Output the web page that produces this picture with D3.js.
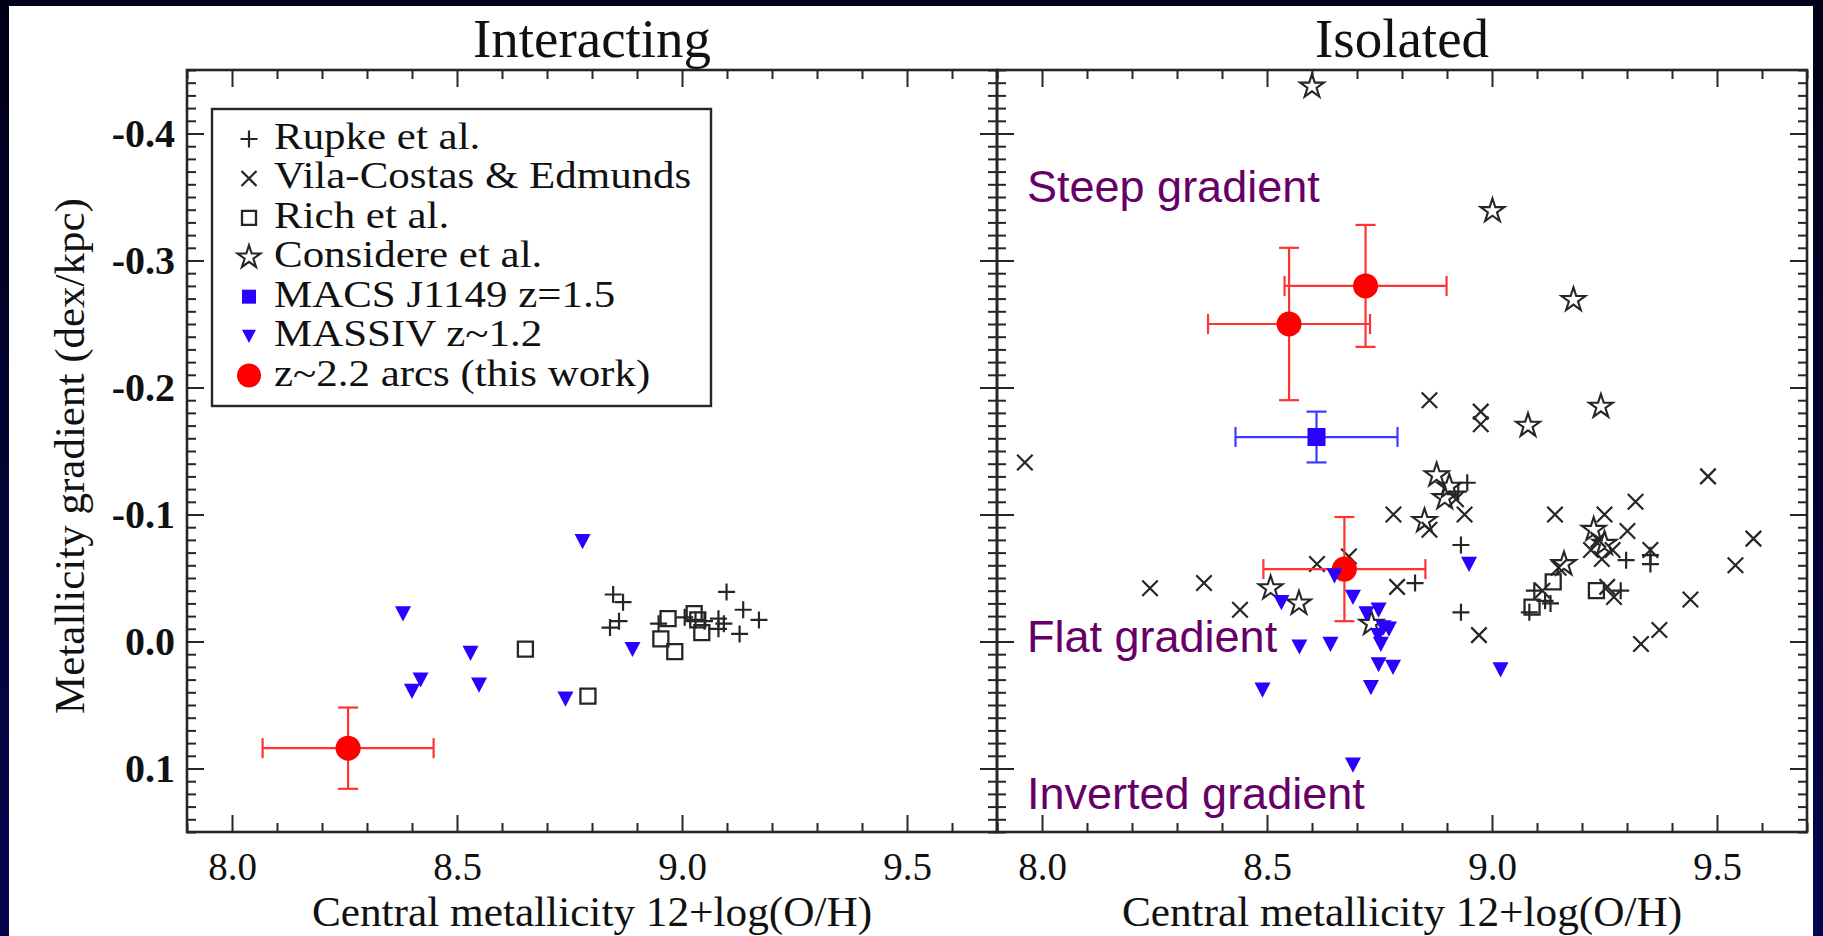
<!DOCTYPE html>
<html>
<head>
<meta charset="utf-8">
<script src="https://cdn.jsdelivr.net/npm/d3@7"></script>
<style>
  html, body { margin: 0; padding: 0; background: #000020; overflow: hidden; }
  svg { display: block; }
</style>
</head>
<body>
<svg id="chart" width="1823" height="936"></svg>
<script>
// ---------------- data ----------------
const xTickValues = [8.0, 8.5, 9.0, 9.5];
const xTickLabels = ["8.0", "8.5", "9.0", "9.5"];
const yTickValues = [-0.4, -0.3, -0.2, -0.1, 0.0, 0.1];
const yTickLabels = ["-0.4", "-0.3", "-0.2", "-0.1", "0.0", "0.1"];
const panelTitles = ["Interacting", "Isolated"];
const xAxisTitle = "Central metallicity 12+log(O/H)";
const yAxisTitle = "Metallicity gradient (dex/kpc)";
const legendLabels = ["Rupke et al.", "Vila-Costas & Edmunds", "Rich et al.", "Considere et al.",
                      "MACS J1149 z=1.5", "MASSIV z~1.2", "z~2.2 arcs (this work)"];
const regimeLabels = ["Steep gradient", "Flat gradient", "Inverted gradient"];
const regimeValues = [-0.346, 0.008, 0.132];

// Interacting systems: [12+log(O/H), gradient]
const intRupke = [[8.847, -0.037], [8.869, -0.031], [8.860, -0.016], [8.840, -0.011], [8.948, -0.014],
                  [9.006, -0.019], [9.030, -0.017], [9.081, -0.018], [9.099, -0.039], [9.136, -0.025],
                  [9.171, -0.017], [9.128, -0.006], [9.081, -0.010], [9.093, -0.014], [9.050, -0.016]];
const intRich = [[8.652, 0.006], [8.791, 0.043], [8.969, -0.018], [8.953, -0.002], [8.984, 0.008],
                 [9.027, -0.022], [9.035, -0.017], [9.044, -0.007]];
const intMassiv = [[8.779, -0.079], [8.380, -0.022], [8.530, 0.009], [8.419, 0.030], [8.400, 0.039],
                   [8.549, 0.034], [8.741, 0.045], [8.890, 0.006]];
// [x, y, x error, y error]
const intArcs = [[8.258, 0.084, 0.19, 0.032]];

// Isolated systems
const isoRupke = [[8.945, -0.125], [8.925, -0.118], [8.931, -0.076], [8.829, -0.046], [8.931, -0.023],
                  [9.352, -0.061], [9.298, -0.064], [9.094, -0.040], [9.118, -0.032], [9.130, -0.030],
                  [9.083, -0.023], [9.286, -0.040], [9.352, -0.068]];
const isoVila = [[7.962, -0.141], [8.861, -0.190], [8.975, -0.181], [8.975, -0.171], [8.781, -0.100],
                 [8.939, -0.100], [8.861, -0.088], [8.611, -0.061], [8.682, -0.067], [8.440, -0.025],
                 [8.240, -0.042], [8.360, -0.046], [8.789, -0.043], [8.971, -0.005], [8.920, -0.112],
                 [9.140, -0.100], [9.250, -0.100], [9.319, -0.110], [9.480, -0.130], [9.581, -0.081],
                 [9.541, -0.060], [9.441, -0.033], [9.372, -0.009], [9.331, 0.002], [9.301, -0.087],
                 [9.236, -0.080], [9.220, -0.072], [9.268, -0.072], [9.244, -0.065], [9.352, -0.072],
                 [9.148, -0.058], [9.112, -0.040], [9.256, -0.043], [9.271, -0.035]];
const isoRich = [[9.136, -0.047], [9.089, -0.027], [9.232, -0.040]];
const isoConsidere = [[8.600, -0.437], [9.001, -0.339], [9.181, -0.269], [9.242, -0.185], [9.080, -0.170],
                      [8.877, -0.131], [8.905, -0.122], [8.895, -0.113], [8.850, -0.095], [8.508, -0.042],
                      [8.571, -0.030], [8.732, -0.014], [9.226, -0.088], [9.160, -0.061], [9.250, -0.077]];
const isoMassiv = [[8.949, -0.061], [8.650, -0.052], [8.532, -0.031], [8.691, -0.035], [8.721, -0.022],
                   [8.748, -0.025], [8.759, -0.011], [8.771, -0.010], [8.747, -0.005], [8.753, 0.002],
                   [8.572, 0.004], [8.641, 0.002], [8.748, 0.018], [8.780, 0.020], [9.019, 0.022],
                   [8.490, 0.038], [8.731, 0.036], [8.691, 0.097]];
const isoMacs = [[8.610, -0.161, 0.18, 0.020]];
const isoArcs = [[8.719, -0.280, 0.18, 0.048], [8.549, -0.250, 0.18, 0.060], [8.672, -0.057, 0.18, 0.041]];

// ---------------- layout ----------------
const W = 1823, H = 936;
const plotTop = 70, plotBottom = 832;
const panels = [
  { left: 187, right: 997 },
  { left: 997, right: 1807 }
];
const xDomain = [7.9, 9.7];
const yDomain = [-0.45, 0.15];
const INK = "#262626";
const BLUE = "#2a00ff";
const RED = "#ff0000";
const PURPLE = "#660066";
const SERIF = "'Liberation Serif', 'Times New Roman', serif";
const SANS = "'Liberation Sans', Arial, sans-serif";

const y = d3.scaleLinear().domain(yDomain).range([plotTop, plotBottom]);
const xScales = panels.map(p => d3.scaleLinear().domain(xDomain).range([p.left, p.right]));

const svg = d3.select("#chart");

// slide background and white page
const defs = svg.append("defs");
const grad = defs.append("linearGradient").attr("id", "slideBg")
  .attr("x1", 0).attr("y1", 0).attr("x2", 0).attr("y2", 1);
grad.append("stop").attr("offset", "0%").attr("stop-color", "#000018");
grad.append("stop").attr("offset", "100%").attr("stop-color", "#05054f");
svg.append("rect").attr("width", W).attr("height", H).attr("fill", "url(#slideBg)");
svg.append("rect").attr("x", 9).attr("y", 6).attr("width", 1804).attr("height", H - 6).attr("fill", "#ffffff");

// ---------------- custom marker shapes (size = side length squared) ----------------
const symPlus = { draw(ctx, size) { const r = Math.sqrt(size) / 2;
  ctx.moveTo(-r, 0); ctx.lineTo(r, 0); ctx.moveTo(0, -r); ctx.lineTo(0, r); } };
const symTimes = { draw(ctx, size) { const r = Math.sqrt(size) / 2;
  ctx.moveTo(-r, -r); ctx.lineTo(r, r); ctx.moveTo(r, -r); ctx.lineTo(-r, r); } };
const symTriDown = { draw(ctx, size) { const r = Math.sqrt(size) / 2;
  ctx.moveTo(-r, -r * 0.9); ctx.lineTo(r, -r * 0.9); ctx.lineTo(0, r * 1.0); ctx.closePath(); } };
const starSize = rad => rad * rad / 0.8908130915292852;

const markers = {
  rupke:     { type: symPlus,        size: 17 * 17, fill: "none",  stroke: INK,  sw: 2.2 },
  vila:      { type: symTimes,       size: 15.5 * 15.5, fill: "none", stroke: INK, sw: 2.2 },
  rich:      { type: d3.symbolSquare, size: 15 * 15, fill: "none", stroke: INK,  sw: 2.3 },
  considere: { type: d3.symbolStar,  size: starSize(12.5), fill: "none", stroke: INK, sw: 2.1 },
  macs:      { type: d3.symbolSquare, size: 18 * 18, fill: BLUE,  stroke: "none", sw: 0 },
  massiv:    { type: symTriDown,     size: 16 * 16, fill: BLUE,   stroke: "none", sw: 0 },
  arcs:      { type: d3.symbolCircle, size: Math.PI * 12.5 * 12.5, fill: RED, stroke: "none", sw: 0 }
};

function drawMarkers(g, data, key, x) {
  const m = markers[key];
  const sym = d3.symbol().type(m.type).size(m.size);
  g.append("g").selectAll("path").data(data).join("path")
    .attr("transform", d => `translate(${x(d[0])},${y(d[1])})`)
    .attr("d", sym)
    .attr("fill", m.fill)
    .attr("stroke", m.stroke)
    .attr("stroke-width", m.sw)
    .attr("stroke-linejoin", "miter");
}

function drawErrorBars(g, data, color, x) {
  const cap = 10;
  const eg = g.append("g").attr("stroke", color).attr("stroke-width", 2.2).attr("fill", "none");
  data.forEach(d => {
    const cx = x(d[0]), cy = y(d[1]);
    const x0 = x(d[0] - d[2]), x1 = x(d[0] + d[2]);
    const y0 = y(d[1] - d[3]), y1 = y(d[1] + d[3]);
    eg.append("line").attr("x1", x0).attr("x2", x1).attr("y1", cy).attr("y2", cy);
    eg.append("line").attr("x1", x0).attr("x2", x0).attr("y1", cy - cap).attr("y2", cy + cap);
    eg.append("line").attr("x1", x1).attr("x2", x1).attr("y1", cy - cap).attr("y2", cy + cap);
    eg.append("line").attr("x1", cx).attr("x2", cx).attr("y1", y0).attr("y2", y1);
    eg.append("line").attr("x1", cx - cap).attr("x2", cx + cap).attr("y1", y0).attr("y2", y0);
    eg.append("line").attr("x1", cx - cap).attr("x2", cx + cap).attr("y1", y1).attr("y2", y1);
  });
}

// ---------------- axes ----------------
const xMinor = d3.range(79, 98).map(v => v / 10).filter(v => !xTickValues.some(t => Math.abs(t - v) < 1e-6));
const yMinor = d3.range(-45, 16).map(v => v / 100).filter(v => !yTickValues.some(t => Math.abs(t - v) < 1e-6));
const MAJOR = 17, MINOR = 9;

function styleAxis(g) {
  g.select(".domain").remove();
  g.selectAll(".tick line").attr("stroke", INK).attr("stroke-width", 2);
}

panels.forEach((p, i) => {
  const x = xScales[i];
  const g = svg.append("g");

  // bottom
  g.append("g").attr("transform", `translate(0,${plotBottom})`)
    .call(d3.axisBottom(x).tickValues(xTickValues).tickSize(-MAJOR).tickPadding(20)
      .tickFormat((d, k) => xTickLabels[k]))
    .call(styleAxis)
    .call(a => a.selectAll("text").attr("font-family", SERIF).attr("font-size", 39).attr("fill", "#111"));
  g.append("g").attr("transform", `translate(0,${plotBottom})`)
    .call(d3.axisBottom(x).tickValues(xMinor).tickSize(-MINOR).tickFormat(""))
    .call(styleAxis);
  // top
  g.append("g").attr("transform", `translate(0,${plotTop})`)
    .call(d3.axisTop(x).tickValues(xTickValues).tickSize(-MAJOR).tickFormat(""))
    .call(styleAxis);
  g.append("g").attr("transform", `translate(0,${plotTop})`)
    .call(d3.axisTop(x).tickValues(xMinor).tickSize(-MINOR).tickFormat(""))
    .call(styleAxis);
  // left
  const leftAxis = d3.axisLeft(y).tickValues(yTickValues).tickSize(-MAJOR).tickPadding(12)
    .tickFormat((d, k) => i === 0 ? yTickLabels[k] : "");
  g.append("g").attr("transform", `translate(${p.left},0)`)
    .call(leftAxis).call(styleAxis)
    .call(a => a.selectAll("text").attr("font-family", SERIF).attr("font-size", 40)
      .attr("font-weight", "bold").attr("fill", "#111"));
  g.append("g").attr("transform", `translate(${p.left},0)`)
    .call(d3.axisLeft(y).tickValues(yMinor).tickSize(-MINOR).tickFormat(""))
    .call(styleAxis);
  // right
  g.append("g").attr("transform", `translate(${p.right},0)`)
    .call(d3.axisRight(y).tickValues(yTickValues).tickSize(-MAJOR).tickFormat(""))
    .call(styleAxis);
  g.append("g").attr("transform", `translate(${p.right},0)`)
    .call(d3.axisRight(y).tickValues(yMinor).tickSize(-MINOR).tickFormat(""))
    .call(styleAxis);

  // frame
  g.append("rect").attr("x", p.left).attr("y", plotTop)
    .attr("width", p.right - p.left).attr("height", plotBottom - plotTop)
    .attr("fill", "none").attr("stroke", INK).attr("stroke-width", 2.6);

  // titles
  svg.append("text").attr("x", (p.left + p.right) / 2).attr("y", 57)
    .attr("text-anchor", "middle").attr("font-family", SERIF).attr("font-size", 55)
    .attr("fill", "#111").text(panelTitles[i]);
  svg.append("text").attr("x", (p.left + p.right) / 2).attr("y", 926)
    .attr("text-anchor", "middle").attr("font-family", SERIF).attr("font-size", 42)
    .attr("fill", "#111")
    .text(xAxisTitle)
    .call(t => {
      const w = t.node().getComputedTextLength();
      t.attr("textLength", w * 1.03).attr("lengthAdjust", "spacingAndGlyphs");
    });
});

// y axis title
svg.append("text")
  .attr("transform", `translate(84,${(plotTop + plotBottom) / 2 + 5}) rotate(-90)`)
  .attr("text-anchor", "middle").attr("font-family", SERIF).attr("font-size", 43)
  .attr("fill", "#111").text(yAxisTitle);

// ---------------- Interacting panel ----------------
{
  const x = xScales[0];
  const g = svg.append("g");
  drawMarkers(g, intRupke, "rupke", x);
  drawMarkers(g, intRich, "rich", x);
  drawMarkers(g, intMassiv, "massiv", x);
  drawErrorBars(g, intArcs, "#ff3333", x);
  drawMarkers(g, intArcs, "arcs", x);

  // legend
  const lg = svg.append("g");
  lg.append("rect").attr("x", 212).attr("y", 109).attr("width", 499).attr("height", 297)
    .attr("fill", "#fff").attr("stroke", INK).attr("stroke-width", 2.4);
  const keys = ["rupke", "vila", "rich", "considere", "macs", "massiv", "arcs"];
  const legendSizes = { rupke: 17 * 17, vila: 15 * 15, rich: 14 * 14, considere: starSize(12),
                        macs: 14 * 14, massiv: 14 * 14, arcs: Math.PI * 12 * 12 };
  const rowY = d3.scalePoint().domain(keys).range([139, 375.5]);
  keys.forEach((k, j) => {
    const m = markers[k];
    lg.append("path")
      .attr("transform", `translate(249,${rowY(k)})`)
      .attr("d", d3.symbol().type(m.type).size(legendSizes[k]))
      .attr("fill", m.fill).attr("stroke", m.stroke).attr("stroke-width", m.sw);
    const t = lg.append("text").attr("x", 274).attr("y", rowY(k) + 10)
      .attr("font-family", SERIF).attr("font-size", 38).attr("fill", "#111")
      .text(legendLabels[j]);
    const w = t.node().getComputedTextLength();
    t.attr("textLength", w * 1.13).attr("lengthAdjust", "spacingAndGlyphs");
  });
}

// ---------------- Isolated panel ----------------
{
  const x = xScales[1];
  const g = svg.append("g");
  drawMarkers(g, isoVila, "vila", x);
  drawMarkers(g, isoRupke, "rupke", x);
  drawMarkers(g, isoRich, "rich", x);
  drawMarkers(g, isoConsidere, "considere", x);
  drawErrorBars(g, isoArcs, "#ff3333", x);
  drawMarkers(g, isoArcs, "arcs", x);
  drawMarkers(g, isoMassiv, "massiv", x);
  drawErrorBars(g, isoMacs, "#3b3bff", x);
  drawMarkers(g, isoMacs, "macs", x);

  // gradient regime annotations
  const ax = panels[1].left + 30;
  g.selectAll("text.regime").data(regimeLabels).join("text")
    .attr("class", "regime")
    .attr("x", ax)
    .attr("y", (d, k) => y(regimeValues[k]))
    .attr("font-family", SANS).attr("font-size", 45).attr("fill", PURPLE)
    .text(d => d);
}
</script>
</body>
</html>
